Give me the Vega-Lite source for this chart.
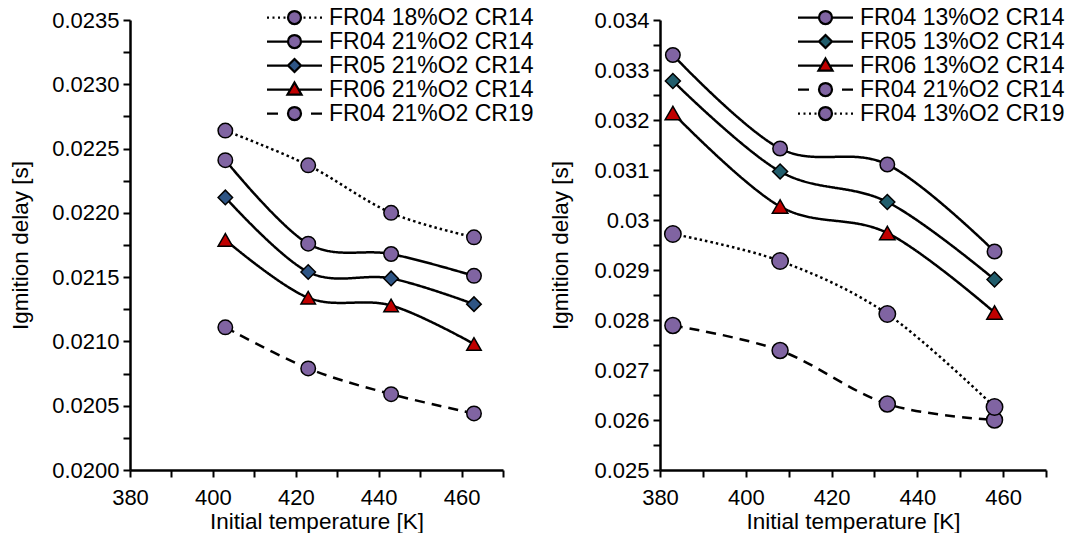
{
  "$schema": "https://vega.github.io/schema/vega-lite/v6.json",
  "background": "white",
  "padding": {"left": 9, "top": 6, "right": 0, "bottom": 0},
  "autosize": {"type": "pad"},
  "config": {
    "view": {"stroke": null},
    "font": "Liberation Sans",
    "axis": {
      "domainColor": "black", "domainWidth": 2.5, "tickColor": "black", "tickWidth": 2, "tickSize": 7,
      "grid": false, "labelFont": "Liberation Sans", "labelFontSize": 22, "labelColor": "black",
      "titleFont": "Liberation Sans", "titleFontSize": 22.5, "titleFontWeight": "normal", "titleColor": "black",
      "labelPadding": 4, "labelOverlap": false, "labelFlush": false
    },
    "axisX": {"labelPadding": 10, "titleY": 51, "titleBaseline": "middle"},
    "axisY": {"titleBaseline": "middle"}
  },
  "datasets": {
    "dodecane": [
      {"T": 403, "delay": 0.02264, "series": "FR04 18%O2 CR14"},
      {"T": 423, "delay": 0.02237, "series": "FR04 18%O2 CR14"},
      {"T": 443, "delay": 0.02200, "series": "FR04 18%O2 CR14"},
      {"T": 463, "delay": 0.02181, "series": "FR04 18%O2 CR14"},
      {"T": 403, "delay": 0.02241, "series": "FR04 21%O2 CR14"},
      {"T": 423, "delay": 0.02176, "series": "FR04 21%O2 CR14"},
      {"T": 443, "delay": 0.02168, "series": "FR04 21%O2 CR14"},
      {"T": 463, "delay": 0.02151, "series": "FR04 21%O2 CR14"},
      {"T": 403, "delay": 0.02212, "series": "FR05 21%O2 CR14"},
      {"T": 423, "delay": 0.02154, "series": "FR05 21%O2 CR14"},
      {"T": 443, "delay": 0.02149, "series": "FR05 21%O2 CR14"},
      {"T": 463, "delay": 0.02129, "series": "FR05 21%O2 CR14"},
      {"T": 403, "delay": 0.02179, "series": "FR06 21%O2 CR14"},
      {"T": 423, "delay": 0.02134, "series": "FR06 21%O2 CR14"},
      {"T": 443, "delay": 0.02128, "series": "FR06 21%O2 CR14"},
      {"T": 463, "delay": 0.02098, "series": "FR06 21%O2 CR14"},
      {"T": 403, "delay": 0.02111, "series": "FR04 21%O2 CR19"},
      {"T": 423, "delay": 0.02079, "series": "FR04 21%O2 CR19"},
      {"T": 443, "delay": 0.02059, "series": "FR04 21%O2 CR19"},
      {"T": 463, "delay": 0.02044, "series": "FR04 21%O2 CR19"}
    ],
    "isooctane": [
      {"T": 383, "delay": 0.03330, "series": "FR04 13%O2 CR14"},
      {"T": 408, "delay": 0.03143, "series": "FR04 13%O2 CR14"},
      {"T": 433, "delay": 0.03111, "series": "FR04 13%O2 CR14"},
      {"T": 458, "delay": 0.02937, "series": "FR04 13%O2 CR14"},
      {"T": 383, "delay": 0.03278, "series": "FR05 13%O2 CR14"},
      {"T": 408, "delay": 0.03097, "series": "FR05 13%O2 CR14"},
      {"T": 433, "delay": 0.03036, "series": "FR05 13%O2 CR14"},
      {"T": 458, "delay": 0.02881, "series": "FR05 13%O2 CR14"},
      {"T": 383, "delay": 0.03214, "series": "FR06 13%O2 CR14"},
      {"T": 408, "delay": 0.03027, "series": "FR06 13%O2 CR14"},
      {"T": 433, "delay": 0.02974, "series": "FR06 13%O2 CR14"},
      {"T": 458, "delay": 0.02815, "series": "FR06 13%O2 CR14"},
      {"T": 383, "delay": 0.02789, "series": "FR04 21%O2 CR14"},
      {"T": 408, "delay": 0.02739, "series": "FR04 21%O2 CR14"},
      {"T": 433, "delay": 0.02632, "series": "FR04 21%O2 CR14"},
      {"T": 458, "delay": 0.02600, "series": "FR04 21%O2 CR14"},
      {"T": 383, "delay": 0.02972, "series": "FR04 13%O2 CR19"},
      {"T": 408, "delay": 0.02918, "series": "FR04 13%O2 CR19"},
      {"T": 433, "delay": 0.02812, "series": "FR04 13%O2 CR19"},
      {"T": 458, "delay": 0.02626, "series": "FR04 13%O2 CR19"}
    ]
  },
  "spacing": 157,
  "bounds": "flush",
  "resolve": {
    "scale": {"x": "independent", "y": "independent", "fill": "independent", "shape": "independent", "strokeDash": "independent", "size": "independent"},
    "legend": {"fill": "independent", "shape": "independent"}
  },
  "hconcat": [
    {
      "width": 373,
      "height": 450,
      "data": {"name": "dodecane"},
      "encoding": {
        "x": {"field": "T", "type": "quantitative", "scale": {"domain": [380, 470], "nice": false, "zero": false},
          "axis": {"title": "Initial temperature [K]", "values": [380, 390, 400, 410, 420, 430, 440, 450, 460, 470],
            "labelExpr": "round(datum.value/10) % 2 == 0 ? format(datum.value, 'd') : ''"}},
        "y": {"field": "delay", "type": "quantitative", "scale": {"domain": [0.02, 0.0235], "nice": false, "zero": false},
          "axis": {"title": "Igmition delay [s]", "titleX": -110,
            "values": [0.02, 0.02025, 0.0205, 0.02075, 0.021, 0.02125, 0.0215, 0.02175, 0.022, 0.02225, 0.0225, 0.02275, 0.023, 0.02325, 0.0235],
            "labelExpr": "round(datum.value*4000) % 2 == 0 ? format(datum.value, '.4f') : ''"}}
      },
      "layer": [
        {
          "mark": {"type": "line", "interpolate": "cardinal", "strokeWidth": 2.5, "color": "black"},
          "encoding": {
            "strokeDash": {"field": "series", "type": "nominal",
              "scale": {"domain": ["FR04 18%O2 CR14", "FR04 21%O2 CR14", "FR05 21%O2 CR14", "FR06 21%O2 CR14", "FR04 21%O2 CR19"],
                "range": [[2.5, 3], [1, 0], [1, 0], [1, 0], [10, 7]]}, "legend": null}
          }
        },
        {
          "mark": {"type": "point", "filled": true, "stroke": "black", "strokeWidth": 1.5, "opacity": 1},
          "encoding": {
            "shape": {"field": "series", "type": "nominal",
              "scale": {"domain": ["FR04 18%O2 CR14", "FR04 21%O2 CR14", "FR05 21%O2 CR14", "FR06 21%O2 CR14", "FR04 21%O2 CR19"],
                "range": ["circle", "circle", "diamond", "triangle-up", "circle"]}, "legend": null},
            "fill": {"field": "series", "type": "nominal",
              "scale": {"domain": ["FR04 18%O2 CR14", "FR04 21%O2 CR14", "FR05 21%O2 CR14", "FR06 21%O2 CR14", "FR04 21%O2 CR19"],
                "range": ["#8064A2", "#8064A2", "#2E5585", "#C00000", "#8064A2"]}, "legend": null},
            "size": {"field": "series", "type": "nominal",
              "scale": {"domain": ["FR04 18%O2 CR14", "FR04 21%O2 CR14", "FR05 21%O2 CR14", "FR06 21%O2 CR14", "FR04 21%O2 CR19"],
                "range": [210, 210, 270, 250, 210]}, "legend": null}
          }
        },
        {
          "mark": {"type": "point", "filled": true, "opacity": 0, "size": 400, "stroke": "black", "strokeWidth": 2.25},
          "encoding": {
            "shape": {"field": "series", "type": "nominal",
              "scale": {"domain": ["FR04 18%O2 CR14", "FR04 21%O2 CR14", "FR05 21%O2 CR14", "FR06 21%O2 CR14", "FR04 21%O2 CR19"],
                "range": [
                  "M-2.75,0L-2.55,0M-2.2,0L-2,0M-1.65,0L-1.45,0M-1.1,0L-0.9,0M0.9,0L1.1,0M1.45,0L1.65,0M2,0L2.2,0M2.55,0L2.75,0M-0.65,0A0.65,0.65,0,1,0,0.65,0A0.65,0.65,0,1,0,-0.65,0Z",
                  "M-2.75,0L-0.65,0M0.65,0L2.75,0M-0.65,0A0.65,0.65,0,1,0,0.65,0A0.65,0.65,0,1,0,-0.65,0Z",
                  "M-2.75,0L-0.65,0M0.65,0L2.75,0M0,-0.65L0.65,0L0,0.65L-0.65,0Z",
                  "M-2.75,0L-0.41,0M0.41,0L2.75,0M0,-0.7L0.7,0.5L-0.7,0.5Z",
                  "M-2.75,0L-1.65,0M1.65,0L2.75,0M-0.65,0A0.65,0.65,0,1,0,0.65,0A0.65,0.65,0,1,0,-0.65,0Z"
                ]},
              "legend": {"orient": "none", "legendX": 137, "legendY": -14, "title": null, "labelFontSize": 23, "labelFont": "Liberation Sans", "labelColor": "black",
                "symbolOffset": 16, "labelOffset": 23, "rowPadding": 0, "symbolSize": 400, "symbolStrokeWidth": 2.25, "symbolStrokeColor": "black", "symbolOpacity": 1, "labelLimit": 400, "padding": 0,
                "encode": {"symbols": {"update": {"stroke": {"value": "black"}, "strokeWidth": {"value": 2.25}, "opacity": {"value": 1}}}}}},
            "fill": {"field": "series", "type": "nominal",
              "scale": {"domain": ["FR04 18%O2 CR14", "FR04 21%O2 CR14", "FR05 21%O2 CR14", "FR06 21%O2 CR14", "FR04 21%O2 CR19"],
                "range": ["#8064A2", "#8064A2", "#2E5585", "#C00000", "#8064A2"]},
              "legend": {"orient": "none", "legendX": 137, "legendY": -14, "title": null, "labelFontSize": 23, "labelFont": "Liberation Sans", "labelColor": "black",
                "symbolOffset": 16, "labelOffset": 23, "rowPadding": 0, "symbolSize": 400, "symbolStrokeWidth": 2.25, "symbolStrokeColor": "black", "symbolOpacity": 1, "labelLimit": 400, "padding": 0,
                "encode": {"symbols": {"update": {"stroke": {"value": "black"}, "strokeWidth": {"value": 2.25}, "opacity": {"value": 1}}}}}}
          }
        },
        {
          "data": {"values": [{"label": "N-dodecane"}]},
          "mark": {"type": "text", "align": "left", "baseline": "alphabetic", "dx": 10, "dy": -10, "fontSize": 22, "font": "Liberation Sans", "color": "black"},
          "encoding": {"x": {"datum": 380}, "y": {"datum": 0.02}, "text": {"field": "label"}}
        }
      ],
      "resolve": {"scale": {"shape": "independent", "fill": "independent", "strokeDash": "independent", "size": "independent"}}
    },
    {
      "width": 386,
      "height": 450,
      "data": {"name": "isooctane"},
      "encoding": {
        "x": {"field": "T", "type": "quantitative", "scale": {"domain": [380, 470], "nice": false, "zero": false},
          "axis": {"title": "Initial temperature [K]", "values": [380, 390, 400, 410, 420, 430, 440, 450, 460, 470],
            "labelExpr": "round(datum.value/10) % 2 == 0 ? format(datum.value, 'd') : ''"}},
        "y": {"field": "delay", "type": "quantitative", "scale": {"domain": [0.025, 0.034], "nice": false, "zero": false},
          "axis": {"title": "Igmition delay [s]", "titleX": -100,
            "values": [0.025, 0.0255, 0.026, 0.0265, 0.027, 0.0275, 0.028, 0.0285, 0.029, 0.0295, 0.03, 0.0305, 0.031, 0.0315, 0.032, 0.0325, 0.033, 0.0335, 0.034],
            "labelExpr": "round(datum.value*2000) % 2 == 0 ? format(datum.value, '.3~f') : ''"}}
      },
      "layer": [
        {
          "mark": {"type": "line", "interpolate": "cardinal", "strokeWidth": 2.5, "color": "black"},
          "encoding": {
            "strokeDash": {"field": "series", "type": "nominal",
              "scale": {"domain": ["FR04 13%O2 CR14", "FR05 13%O2 CR14", "FR06 13%O2 CR14", "FR04 21%O2 CR14", "FR04 13%O2 CR19"],
                "range": [[1, 0], [1, 0], [1, 0], [10, 7], [2.5, 3]]}, "legend": null}
          }
        },
        {
          "mark": {"type": "point", "filled": true, "stroke": "black", "strokeWidth": 1.5, "opacity": 1},
          "encoding": {
            "shape": {"field": "series", "type": "nominal",
              "scale": {"domain": ["FR04 13%O2 CR14", "FR05 13%O2 CR14", "FR06 13%O2 CR14", "FR04 21%O2 CR14", "FR04 13%O2 CR19"],
                "range": ["circle", "diamond", "triangle-up", "circle", "circle"]}, "legend": null},
            "fill": {"field": "series", "type": "nominal",
              "scale": {"domain": ["FR04 13%O2 CR14", "FR05 13%O2 CR14", "FR06 13%O2 CR14", "FR04 21%O2 CR14", "FR04 13%O2 CR19"],
                "range": ["#8064A2", "#215D6C", "#C00000", "#8064A2", "#8064A2"]}, "legend": null},
            "size": {"field": "series", "type": "nominal",
              "scale": {"domain": ["FR04 13%O2 CR14", "FR05 13%O2 CR14", "FR06 13%O2 CR14", "FR04 21%O2 CR14", "FR04 13%O2 CR19"],
                "range": [210, 270, 250, 210, 210]}, "legend": null}
          }
        },
        {
          "mark": {"type": "point", "filled": true, "opacity": 0, "size": 400, "stroke": "black", "strokeWidth": 2.25},
          "encoding": {
            "shape": {"field": "series", "type": "nominal",
              "scale": {"domain": ["FR04 13%O2 CR14", "FR05 13%O2 CR14", "FR06 13%O2 CR14", "FR04 21%O2 CR14", "FR04 13%O2 CR19"],
                "range": [
                  "M-2.75,0L-0.65,0M0.65,0L2.75,0M-0.65,0A0.65,0.65,0,1,0,0.65,0A0.65,0.65,0,1,0,-0.65,0Z",
                  "M-2.75,0L-0.65,0M0.65,0L2.75,0M0,-0.65L0.65,0L0,0.65L-0.65,0Z",
                  "M-2.75,0L-0.41,0M0.41,0L2.75,0M0,-0.7L0.7,0.5L-0.7,0.5Z",
                  "M-2.75,0L-1.65,0M1.65,0L2.75,0M-0.65,0A0.65,0.65,0,1,0,0.65,0A0.65,0.65,0,1,0,-0.65,0Z",
                  "M-2.75,0L-2.55,0M-2.2,0L-2,0M-1.65,0L-1.45,0M-1.1,0L-0.9,0M0.9,0L1.1,0M1.45,0L1.65,0M2,0L2.2,0M2.55,0L2.75,0M-0.65,0A0.65,0.65,0,1,0,0.65,0A0.65,0.65,0,1,0,-0.65,0Z"
                ]},
              "legend": {"orient": "none", "legendX": 138, "legendY": -14, "title": null, "labelFontSize": 23, "labelFont": "Liberation Sans", "labelColor": "black",
                "symbolOffset": 16, "labelOffset": 23, "rowPadding": 0, "symbolSize": 400, "symbolStrokeWidth": 2.25, "symbolStrokeColor": "black", "symbolOpacity": 1, "labelLimit": 400, "padding": 0,
                "encode": {"symbols": {"update": {"stroke": {"value": "black"}, "strokeWidth": {"value": 2.25}, "opacity": {"value": 1}}}}}},
            "fill": {"field": "series", "type": "nominal",
              "scale": {"domain": ["FR04 13%O2 CR14", "FR05 13%O2 CR14", "FR06 13%O2 CR14", "FR04 21%O2 CR14", "FR04 13%O2 CR19"],
                "range": ["#8064A2", "#215D6C", "#C00000", "#8064A2", "#8064A2"]},
              "legend": {"orient": "none", "legendX": 138, "legendY": -14, "title": null, "labelFontSize": 23, "labelFont": "Liberation Sans", "labelColor": "black",
                "symbolOffset": 16, "labelOffset": 23, "rowPadding": 0, "symbolSize": 400, "symbolStrokeWidth": 2.25, "symbolStrokeColor": "black", "symbolOpacity": 1, "labelLimit": 400, "padding": 0,
                "encode": {"symbols": {"update": {"stroke": {"value": "black"}, "strokeWidth": {"value": 2.25}, "opacity": {"value": 1}}}}}}
          }
        },
        {
          "data": {"values": [{"label": "Iso-octane"}]},
          "mark": {"type": "text", "align": "left", "baseline": "alphabetic", "dx": 9, "dy": -10, "fontSize": 22, "font": "Liberation Sans", "color": "black"},
          "encoding": {"x": {"datum": 380}, "y": {"datum": 0.025}, "text": {"field": "label"}}
        }
      ],
      "resolve": {"scale": {"shape": "independent", "fill": "independent", "strokeDash": "independent", "size": "independent"}}
    }
  ]
}
